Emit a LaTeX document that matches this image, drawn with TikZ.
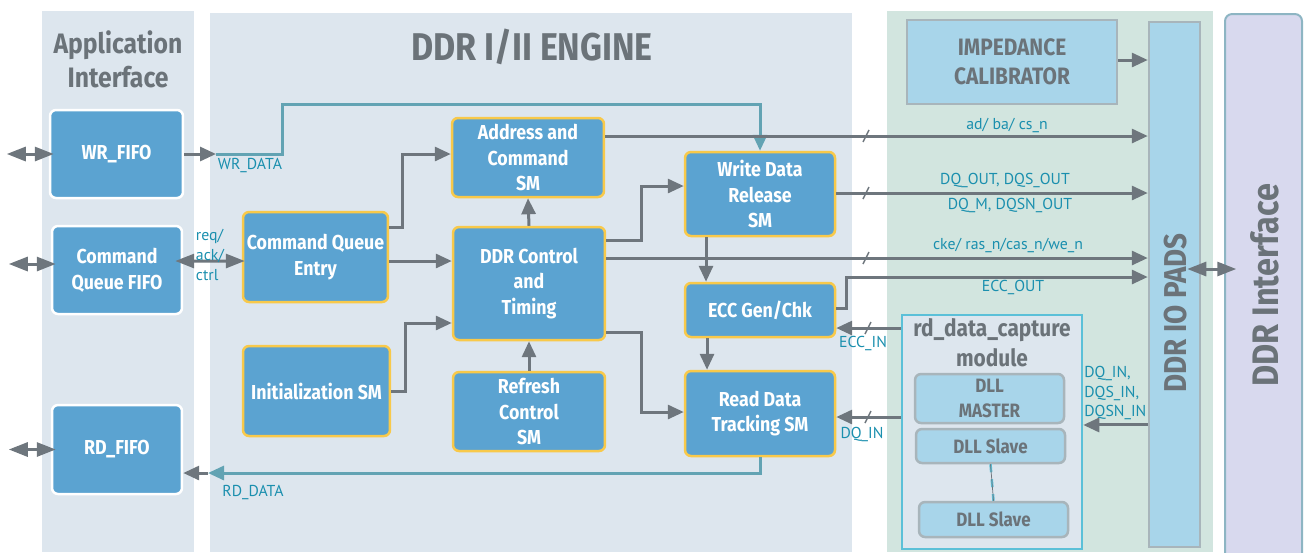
\documentclass[tikz,border=0pt]{standalone}
\usepackage{fontspec}
\setmainfont{PT Sans}
\newfontfamily\condfont[FakeStretch=0.88]{Fira Sans}
\usetikzlibrary{arrows.meta, positioning, calc}

\definecolor{panelgrey}{HTML}{DDE6EE}
\definecolor{padgreen}{HTML}{D2E5DF}
\definecolor{blkblue}{HTML}{5BA3D1}
\definecolor{blkyellow}{HTML}{F8C94A}
\definecolor{lightblue}{HTML}{A8D5EA}
\definecolor{boxgrey}{HTML}{A8B5BB}
\definecolor{lavender}{HTML}{D8D9EE}
\definecolor{ifborder}{HTML}{8DB5C3}
\definecolor{titlegrey}{HTML}{6B7379}
\definecolor{labelteal}{HTML}{1A8FAE}
\definecolor{linegrey}{HTML}{6E767D}
\definecolor{lineteal}{HTML}{62A3B3}
\definecolor{rdcyan}{HTML}{5BC0D8}

\begin{document}
\begin{tikzpicture}[x=0.02cm, y=-0.02cm]
                \tikzset{
                    panel/.style={fill=panelgrey, inner sep=0pt},
                    blk/.style={draw=blkyellow, line width=0.05cm, rounded corners=0.12cm, fill=blkblue, text=white, align=center, inner sep=0pt, font=\condfont\bfseries\fontsize{11.5}{14.7}\selectfont},
                    fifo/.style={blk, draw=white},
                    lbox/.style={draw=boxgrey, line width=0.05cm, fill=lightblue, text=titlegrey, align=center, inner sep=0pt, font=\condfont\bfseries\fontsize{11}{14}\selectfont},
                    ttl/.style={text=titlegrey, align=center, inner sep=0pt},
                    lbl/.style={text=labelteal, align=center, inner sep=0pt, font=\fontsize{9}{11.3}\selectfont},
                    sig/.style={draw=linegrey, line width=0.06cm, -{Triangle[length=0.32cm, width=0.28cm]}},
                    dsig/.style={sig, draw=lineteal},
                    bidir/.style={draw=linegrey, line width=0.06cm, {Triangle[length=0.38cm, width=0.28cm]}-{Triangle[length=0.38cm, width=0.28cm]}},
                    slashm/.style={draw=linegrey, line width=0.03cm},
                    dllline/.style={draw=rdcyan, line width=0.05cm, dash pattern=on 0.16cm off 0.14cm, postaction={draw=linegrey, line width=0.015cm, solid}}
                }
                \useasboundingbox (0,0) rectangle (1310,552);

                % panels
                \node[panel, minimum width=3.04cm, minimum height=10.82cm] (appif) at (118,281.5) {};
                \node[panel, minimum width=12.84cm, minimum height=10.78cm] (engine) at (531,282.5) {};
                \node[fill=padgreen, inner sep=0pt, minimum width=6.52cm, minimum height=10.82cm] (padzone) at (1050,281.5) {};
                \node[draw=ifborder, line width=0.04cm, fill=lavender, rounded corners=0.14cm, inner sep=0pt, minimum width=1.54cm, minimum height=11.04cm] (ddrif) at (1263.5,290) {};
                \node[draw=boxgrey, line width=0.05cm, fill=lightblue, inner sep=0pt, minimum width=1.02cm, minimum height=10.5cm] (pads) at (1174.5,284.5) {};
                \node[lbox, minimum width=4.2cm, minimum height=1.68cm, font=\condfont\bfseries\fontsize{13.5}{16.4}\selectfont] (imp) at (1012,62) {IMPEDANCE\\CALIBRATOR};
                \node[draw=rdcyan, line width=0.05cm, fill=panelgrey, inner sep=0pt, minimum width=3.6cm, minimum height=4.68cm] (rdcap) at (992,432) {};

                \node[ttl, font=\condfont\bfseries\fontsize{16}{19.3}\selectfont] (apptitle) at (118,59) {Application\\Interface};
                \node[ttl, font=\condfont\bfseries\fontsize{22}{25}\selectfont] (enginetitle) at (532,47) {DDR I/II ENGINE};
                \node[ttl, rotate=90, font=\condfont\bfseries\fontsize{18}{20}\selectfont] (padstitle) at (1176,313) {DDR IO PADS};
                \node[ttl, rotate=90, font=\condfont\bfseries\fontsize{21}{25}\selectfont] (iftitle) at (1265,285) {DDR Interface};
                \node[ttl, font=\condfont\bfseries\fontsize{13.5}{17}\selectfont] (rdcaptitle) at (992,343) {rd\_data\_capture\\module};

                \node[lbox, rounded corners=0.12cm, minimum width=2.98cm, minimum height=0.98cm] (dllm) at (989.5,398.5) {DLL\\MASTER};
                \node[lbox, rounded corners=0.12cm, minimum width=2.98cm, minimum height=0.68cm] (dlls1) at (990.5,446) {DLL Slave};
                \node[lbox, rounded corners=0.12cm, minimum width=2.98cm, minimum height=0.7cm] (dlls2) at (993.5,519.5) {DLL Slave};

                % blocks
                \node[fifo, minimum width=2.66cm, minimum height=1.76cm] (wrfifo) at (116.5,154) {WR\_FIFO};
                \node[fifo, minimum width=2.6cm, minimum height=1.76cm] (cqfifo) at (117,270) {Command\\Queue FIFO};
                \node[fifo, minimum width=2.6cm, minimum height=1.78cm] (rdfifo) at (117,449.5) {RD\_FIFO};
                \node[blk, minimum width=2.9cm, minimum height=1.8cm] (cqe) at (315.5,257) {Command Queue\\Entry};
                \node[blk, minimum width=2.94cm, minimum height=1.8cm] (init) at (316.5,391) {Initialization SM};
                \node[blk, minimum width=3.04cm, minimum height=1.58cm] (addr) at (528,157.5) {Address and\\Command\\SM};
                \node[blk, minimum width=3.04cm, minimum height=2.26cm] (ddrctl) at (529,283.5) {DDR Control\\and\\Timing};
                \node[blk, minimum width=3.04cm, minimum height=1.58cm] (refresh) at (529,411.5) {Refresh\\Control\\SM};
                \node[blk, minimum width=3cm, minimum height=1.68cm] (wdr) at (760,194) {Write Data\\Release\\SM};
                \node[blk, minimum width=3cm, minimum height=1.08cm] (ecc) at (760,310) {ECC Gen/Chk};
                \node[blk, minimum width=3cm, minimum height=1.7cm] (rdt) at (760,413.5) {Read Data\\Tracking SM};

                \coordinate (wrdata) at (216,154);
                \coordinate (rddata) at (208,473);

                % connectors
                \draw[bidir] ([xshift=0.1cm]wrfifo.west) -- ++(-47,0);
                \draw[bidir] ([xshift=0.1cm,yshift=0.12cm]cqfifo.west) -- ++(-47,0);
                \draw[bidir] ([xshift=0.1cm]rdfifo.west) -- ++(-47,0);
                \draw[sig] (wrfifo.east) -- (wrdata);
                \draw[dsig] (wrdata) -- ++(66,0) -- ++(0,-50) -| (wdr.north);
                \draw[bidir] ([xshift=-0.16cm,yshift=0.18cm]cqfifo.east) -- ([xshift=0.06cm,yshift=-0.08cm]cqe.west);
                \draw[sig] ([yshift=0.6cm]cqe.east) -- ++(13,0) |- ([yshift=0.07cm]addr.west);
                \draw[sig] ([yshift=-0.08cm]cqe.east) -- ([yshift=-0.08cm]cqe.east -| ddrctl.west);
                \draw[sig] (init.east) -- ++(14,0) |- ([yshift=-0.79cm]ddrctl.west);
                \draw[sig] (ddrctl.north) -- (addr.south);
                \draw[sig] (refresh.north) -- (ddrctl.south);
                \draw[sig] ([yshift=0.87cm]ddrctl.east) -- ++(35,0) |- ([yshift=0.16cm]wdr.west);
                \draw[sig] ([yshift=0.51cm]ddrctl.east) -- ([yshift=0.51cm]ddrctl.east -| pads.west);
                \draw[sig] ([yshift=-0.97cm]ddrctl.east) -- ++(35,0) |- ([yshift=0.03cm]rdt.west);
                \draw[sig] ([yshift=0.43cm]addr.east) -- ([yshift=0.43cm]addr.east -| pads.west);
                \draw[sig] ([yshift=0.02cm]wdr.east) -- ([yshift=0.02cm]wdr.east -| pads.west);
                \draw[sig] ([xshift=-1.08cm]wdr.south) -- ([xshift=-1.08cm]ecc.north);
                \draw[sig] ([yshift=0.04cm]ecc.east) -- ++(10,0) |- ([yshift=0.15cm]pads.west);
                \draw[sig] ([yshift=2.08cm]rdcap.west) -- ([yshift=2.08cm]rdcap.west -| ecc.east);
                \draw[sig] ([yshift=0.3cm]rdcap.west) -- ([yshift=0.3cm]rdcap.west -| rdt.east);
                \draw[sig] ([xshift=-1.06cm]ecc.south) -- ([xshift=-1.06cm]rdt.north);
                \draw[dsig] (rdt.south) |- (rddata);
                \draw[sig] (rddata) -- (rddata -| rdfifo.east);
                \draw[sig] ([yshift=-2.81cm]pads.west) -- ([yshift=-2.81cm]pads.west -| rdcap.east);
                \draw[sig] ([yshift=0.04cm]imp.east) -- ([yshift=0.04cm]imp.east -| pads.west);
                \draw[bidir] ([xshift=-0.28cm,yshift=0.31cm]pads.east) -- ++(49,0);
                \draw[dllline] (dlls1.south) -- (dlls2.north);

                \draw[slashm] (863,142) -- (869,130);
                \draw[slashm] (863,199) -- (869,187);
                \draw[slashm] (863,264) -- (869,252);
                \draw[slashm] (865,334) -- (871,322);
                \draw[slashm] (865,423) -- (871,411);

                % labels
                \node[lbl] (wrdatalbl) at (250,165) {WR\_DATA};
                \node[lbl] (rddatalbl) at (253,492) {RD\_DATA};
                \node[lbl, align=left] (reqlbl) at (210,255) {req/\\ack/\\ctrl};
                \node[lbl] (adlbl) at (1007,125) {ad/ ba/ cs\_n};
                \node[lbl] (dqoutlbl) at (1005,180) {DQ\_OUT, DQS\_OUT};
                \node[lbl] (dqmlbl) at (1010,205) {DQ\_M, DQSN\_OUT};
                \node[lbl] (ckelbl) at (1008,245) {cke/ ras\_n/cas\_n/we\_n};
                \node[lbl] (eccoutlbl) at (1013,287) {ECC\_OUT};
                \node[lbl] (ecclbl) at (863,343) {ECC\_IN};
                \node[lbl] (dqinlbl) at (862,434) {DQ\_IN};
                \node[lbl, align=left, anchor=west] (dqslbl) at (1084,393) {DQ\_IN,\\DQS\_IN,\\DQSN\_IN};
            \end{tikzpicture}
\end{document}
